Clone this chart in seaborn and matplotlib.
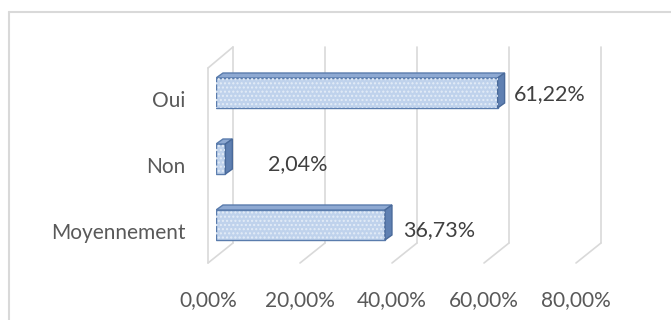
import matplotlib
matplotlib.use("Agg")
import matplotlib.pyplot as plt
import matplotlib.patches as mpatches
from matplotlib.lines import Line2D
from matplotlib.transforms import ScaledTranslation
import seaborn as sns
import pandas as pd

categories = ["Oui", "Non", "Moyennement"]
values = [61.22, 2.04, 36.73]
value_labels = ["61,22%", "2,04%", "36,73%"]
tick_values = [0, 20, 40, 60, 80]
tick_labels = ["0,00%", "20,00%", "40,00%", "60,00%", "80,00%"]

sns.set_theme(style="white")
plt.rcParams["font.family"] = ["Lato", "DejaVu Sans"]

W, H, DPI = 671, 320, 100
fig = plt.figure(figsize=(W / DPI, H / DPI), dpi=DPI)

# axes placement in pixels
x0_px, px_per_unit = 216, 4.6
row0_px, row_step = 93, 66
ax_left = x0_px / W
ax_width = 80 * px_per_unit / W
top_px = row0_px - 0.75 * row_step
bot_px = row0_px + 2.75 * row_step
ax = fig.add_axes([ax_left, (H - bot_px) / H, ax_width, (bot_px - top_px) / H])

df = pd.DataFrame({"cat": categories, "val": values})
bar_h = 30 / row_step
sns.barplot(data=df, y="cat", x="val", orient="h", ax=ax, color="#bfd2ec",
            saturation=1, width=bar_h, edgecolor="#5a7cad", linewidth=1.0, zorder=3)

ax.set_xlim(0, 80)
ax.set_ylim(2.75, -0.75)

def dx(px):
    return px / px_per_unit

def dy(px):
    return px / row_step

def ypx(p):
    return (p - row0_px) / row_step

grid_c = "#d9d9d9"
# back wall gridlines and floor diagonals
for t in tick_values:
    xb = t + dx(17)
    xf = t - dx(8)
    ax.add_line(Line2D([xb, xb], [ypx(47), ypx(243)], color=grid_c, lw=1.2, clip_on=False, zorder=1))
    ax.add_line(Line2D([xf, xb], [ypx(263), ypx(243)], color=grid_c, lw=1.2, clip_on=False, zorder=1))
# left wall
xf0 = -dx(8)
xb0 = dx(17)
ax.add_line(Line2D([xf0, xf0], [ypx(68), ypx(263)], color=grid_c, lw=1.2, clip_on=False, zorder=1))
ax.add_line(Line2D([xf0, xb0], [ypx(68), ypx(47)], color=grid_c, lw=1.2, clip_on=False, zorder=1))

# 3D faces and texture on bars
ddx, ddy = dx(7), dy(5)
for p in list(ax.patches):
    x0 = p.get_x()
    w = p.get_width()
    y0 = p.get_y()
    h = p.get_height()
    ytop, ybot = y0, y0 + h
    top = mpatches.Polygon([[x0, ytop], [x0 + ddx, ytop - ddy], [x0 + w + ddx, ytop - ddy], [x0 + w, ytop]],
                           closed=True, facecolor="#8ea9d2", edgecolor="#5a7cad", lw=1.0, zorder=3)
    side = mpatches.Polygon([[x0 + w, ytop], [x0 + w + ddx, ytop - ddy], [x0 + w + ddx, ybot - ddy], [x0 + w, ybot]],
                            closed=True, facecolor="#5f80b2", edgecolor="#4a6a9a", lw=1.0, zorder=3)
    ax.add_patch(top)
    ax.add_patch(side)
    tex = mpatches.Rectangle((x0, y0), w, h, fill=False, hatch="....", edgecolor="#e3ecf7", lw=0, zorder=3.5)
    ax.add_patch(tex)

# data labels
offsets = [16, 43, 18]
for i, (v, lab) in enumerate(zip(values, value_labels)):
    ax.text(v + dx(offsets[i]), i + dy(1 if i == 0 else 5), lab, ha="left", va="center",
            fontsize=15.5, color="#404040", zorder=5)

ax.set_xticks(tick_values)
ax.set_xticklabels(tick_labels)
ax.tick_params(axis="x", length=0, pad=11, labelsize=15, labelcolor="#595959")
ax.tick_params(axis="y", length=0, pad=22, labelsize=15, labelcolor="#595959")
off = ScaledTranslation(-8 / DPI, 0, fig.dpi_scale_trans)
for lab in ax.get_xticklabels():
    lab.set_transform(lab.get_transform() + off)
offy = ScaledTranslation(0, -6 / DPI, fig.dpi_scale_trans)
for lab in ax.get_yticklabels():
    lab.set_transform(lab.get_transform() + offy)
ax.set_xlabel("")
ax.set_ylabel("")
for s in ax.spines.values():
    s.set_visible(False)
ax.grid(False)
ax.set_facecolor("none")

# chart border (top and left visible)
fig.add_artist(Line2D([9 / W, 1], [1 - 12 / H, 1 - 12 / H], color="#d9d9d9", lw=1.5, transform=fig.transFigure))
fig.add_artist(Line2D([9 / W, 9 / W], [0, 1 - 12 / H], color="#d9d9d9", lw=1.5, transform=fig.transFigure))

fig.savefig("out.png", dpi=DPI)
